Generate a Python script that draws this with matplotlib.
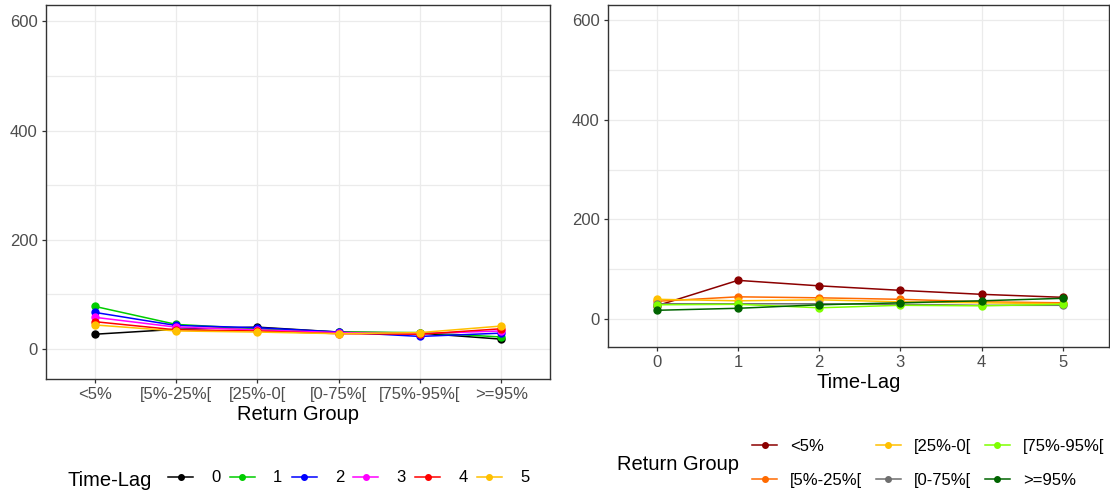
import numpy as np
import matplotlib.pyplot as plt
from matplotlib.lines import Line2D

plt.rcParams['font.family'] = ['Liberation Sans', 'DejaVu Sans']

# return groups and time lags
groups = ['<5%', '[5%-25%[', '[25%-0[', '[0-75%[', '[75%-95%[', '>=95%']
lags = [0, 1, 2, 3, 4, 5]

# counts: one row per time lag, one column per return group
lag0 = [27, 36, 40, 31, 29, 18]
lag1 = [78, 45, 37, 31, 30, 22]
lag2 = [67, 43, 39, 31, 23, 29]
lag3 = [58, 40, 35, 30, 28, 33]
lag4 = [50, 35, 33, 28, 27, 37]
lag5 = [44, 33, 31, 28, 30, 42]
counts = np.array([lag0, lag1, lag2, lag3, lag4, lag5])

lag_colors = ['black', '#00CD00', '#0000FF', '#FF00FF', '#FF0000', '#FFC000']
group_colors = ['#8B0000', '#FF6A00', '#FFC000', '#6E6E6E', '#7FFF00', '#006400']

fig = plt.figure(figsize=(11.1, 4.93), dpi=100)
ax1 = fig.add_axes([46/1110, 1 - 379/493, 504/1110, 374/493])
ax2 = fig.add_axes([608/1110, 1 - 346.7/493, 501/1110, 341.7/493])

def style(ax):
    ax.set_ylim(-55, 630)
    ax.set_yticks([0, 200, 400, 600])
    ax.set_yticks([100, 300, 500], minor=True)
    ax.grid(True, which='both', color='#EBEBEB', lw=0.9)
    ax.set_axisbelow(True)
    for s in ax.spines.values():
        s.set_color('#333333')
        s.set_linewidth(1.0)
    ax.tick_params(which='major', length=3, width=0.9, color='#333333',
                   labelcolor='#4D4D4D', labelsize=12, pad=3)
    ax.tick_params(which='minor', length=0)

# left: one line per time lag across return groups
xg = np.arange(len(groups))
for i, lag in enumerate(lags):
    ax1.plot(xg, counts[i], color=lag_colors[i], lw=1.1, marker='o', ms=5)
ax1.set_xticks(xg)
ax1.set_xticklabels(groups)
ax1.set_xlim(-0.6, 5.6)
style(ax1)
ax1.set_xlabel('Return Group', fontsize=14.5, labelpad=2)

# right: one line per return group across time lags
for j, g in enumerate(groups):
    ax2.plot(lags, counts[:, j], color=group_colors[j], lw=1.1, marker='o', ms=5)
ax2.set_xticks(lags)
ax2.set_xlim(-0.6, 5.57)
style(ax2)
ax2.set_xlabel('Time-Lag', fontsize=14.5, labelpad=2)

# legends
h1 = [Line2D([], [], color=c, lw=1.1, marker='o', ms=4) for c in lag_colors]
fig.text(68/1110, 1 - 480/493, 'Time-Lag', fontsize=14.5, va='center', ha='left')
fig.legend(h1, [str(l) for l in lags], ncol=6, frameon=False,
           loc='center left', bbox_to_anchor=(168/1110, 1 - 478/493),
           fontsize=12, handlelength=1.5, handletextpad=1.1,
           columnspacing=0.55, borderpad=0, borderaxespad=0)

h2 = [Line2D([], [], color=c, lw=1.1, marker='o', ms=4) for c in group_colors]
fig.text(617/1110, 1 - 465/493, 'Return Group', fontsize=14.5, va='center', ha='left')
fig.legend(h2, groups, ncol=3, frameon=False,
           loc='center left', bbox_to_anchor=(752/1110, 1 - 463.5/493),
           fontsize=12, handlelength=1.5, handletextpad=0.8,
           columnspacing=0.8, borderpad=0, borderaxespad=0, labelspacing=1.15)

fig.savefig('out.png', dpi=100)
